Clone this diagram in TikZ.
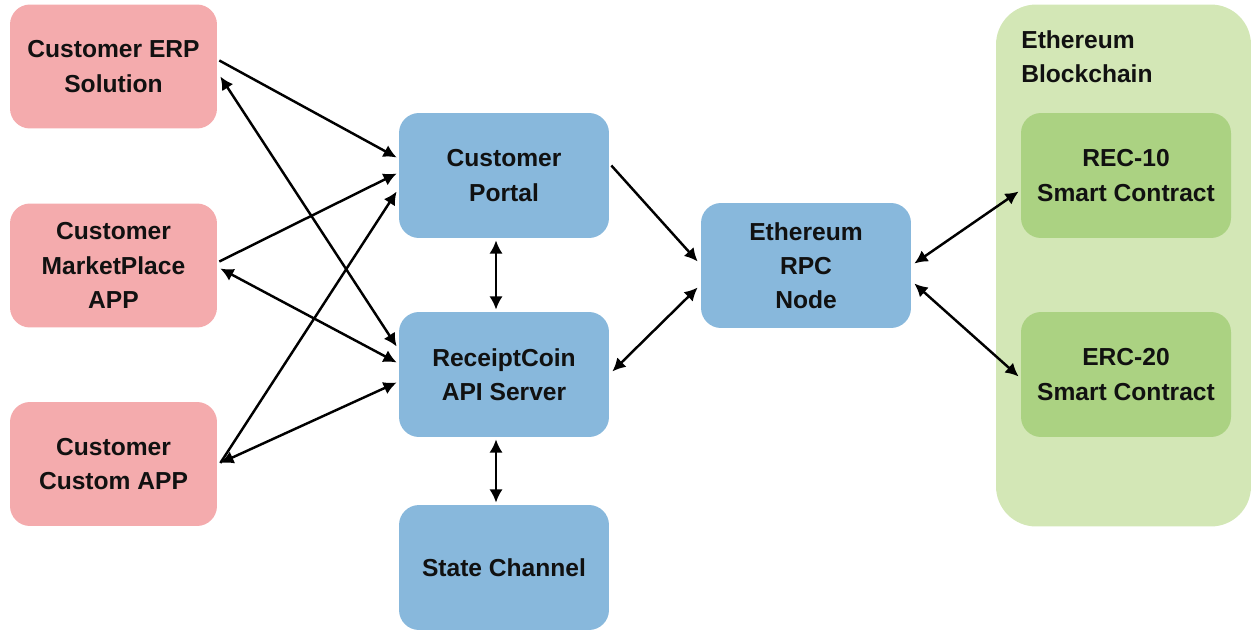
\documentclass[tikz,border=0pt]{standalone}
\usepackage{fontspec}
\setmainfont{Liberation Sans}
\usetikzlibrary{arrows.meta,calc}
\definecolor{pinkbox}{HTML}{F4ABAD}
\definecolor{bluebox}{HTML}{88B8DC}
\definecolor{chainbg}{HTML}{D3E7B6}
\definecolor{greenbox}{HTML}{ABD282}
\definecolor{txt}{HTML}{111111}
\begin{document}
\begin{tikzpicture}[x=0.02cm,y=-0.02cm,
  box/.style={rectangle, rounded corners=0.4cm, minimum width=4.14cm, minimum height=2.48cm,
    inner sep=2pt, align=center, text=txt, font=\fontsize{14}{19.5}\selectfont\bfseries},
  client/.style={box, fill=pinkbox},
  server/.style={box, fill=bluebox, minimum width=4.2cm, minimum height=2.5cm},
  contract/.style={box, fill=greenbox, minimum width=4.2cm, minimum height=2.5cm},
  tip/.tip={Latex[length=7.5pt,width=7.5pt]},
  conn/.style={line width=1.4pt, draw=black, -tip},
  biconn/.style={line width=1.4pt, draw=black, tip-tip}
]
\useasboundingbox (0,0) rectangle (1253,632);
% container
\node[rectangle, rounded corners=0.8cm, fill=chainbg, minimum width=5.1cm, minimum height=10.44cm] (chain) at (1123.5,265.5) {};
\node[anchor=north west, align=left, inner sep=0pt, text=txt, font=\fontsize{14}{19.5}\selectfont\bfseries] (chaintitle) at (1021,30) {Ethereum\\Blockchain};
% nodes
\node[client] (erp) at (113.5,66.5) {Customer ERP\\Solution};
\node[client] (mp) at (113.5,265.5) {Customer\\MarketPlace\\APP};
\node[client] (cust) at (113.5,464) {Customer\\Custom APP};
\node[server] (portal) at (504,175.5) {Customer\\Portal};
\node[server] (api) at (504,374.5) {ReceiptCoin\\API Server};
\node[server] (state) at (504,567.5) {State Channel};
\node[server] (rpc) at (806,265.5) {Ethereum\\RPC\\Node};
\node[contract] (rec) at (1126,175.5) {REC-10\\Smart Contract};
\node[contract] (erc) at (1126,374.5) {ERC-20\\Smart Contract};
% connectors left
\draw[conn] ($(erp.east)+(2,-6)$) -- ($(portal.west)+(-2,-18)$);
\draw[biconn] ($(api.west)+(-2,-28)$) -- ($(erp.east)+(3,10)$);
\draw[conn] ($(mp.east)+(2,-4)$) -- ($(portal.west)+(-2,-2)$);
\draw[biconn] ($(api.west)+(-2,-12)$) -- ($(mp.east)+(3,3)$);
\draw[conn] ($(cust.east)+(3,-1)$) -- ($(portal.west)+(-2,16)$);
\draw[biconn] ($(api.west)+(-2,8)$) -- ($(cust.east)+(3,-1)$);
% center
\draw[biconn] ($(portal.south)+(-8,2)$) -- ($(api.north)+(-8,-2)$);
\draw[biconn] ($(api.south)+(-8,2)$) -- ($(state.north)+(-8,-2)$);
\draw[conn] ($(portal.east)+(2,-10)$) -- ($(rpc.west)+(-3,-4)$);
\draw[biconn] ($(api.east)+(3,-3)$) -- ($(rpc.west)+(-3,22)$);
% right
\draw[biconn] ($(rpc.east)+(3,-2)$) -- ($(rec.west)+(-2,16)$);
\draw[biconn] ($(rpc.east)+(3,18)$) -- ($(erc.west)+(-2,2)$);
\end{tikzpicture}
\end{document}
